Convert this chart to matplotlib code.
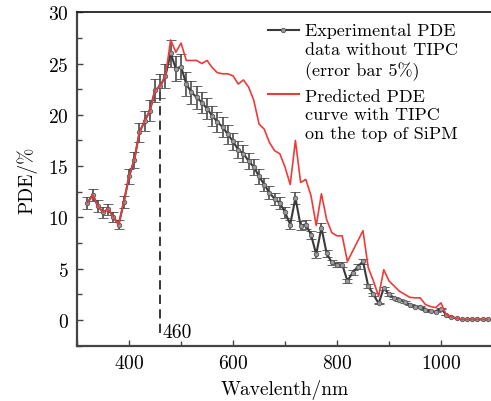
import numpy as np
import matplotlib
matplotlib.use("Agg")
import matplotlib.pyplot as plt
from matplotlib.ticker import MultipleLocator

plt.rcParams['font.family'] = ['cmr10', 'DejaVu Serif']
plt.rcParams['mathtext.fontset'] = 'cm'
plt.rcParams['axes.formatter.use_mathtext'] = True

# wavelength grid (nm)
wavelength = np.arange(320, 1100, 10)

# measured PDE without TIPC (%)
pde_exp = [11.4, 12.2, 11.1, 10.5, 10.8, 10.0, 9.3, 11.5, 14.0, 15.6,
           18.3, 19.4, 20.4, 22.4, 22.8, 23.8, 26.0, 24.5, 24.7, 23.0,
           22.2, 21.7, 21.2, 20.6, 19.9, 19.3, 18.8, 18.1, 17.4, 16.6,
           16.2, 15.5, 14.9, 14.0, 13.2, 12.4, 11.8, 11.4, 10.5, 9.3,
           11.9, 9.2, 9.3, 8.3, 6.4, 9.0, 6.5, 5.6, 5.4, 5.4,
           3.8, 4.6, 5.2, 5.7, 3.3, 2.5, 1.6, 3.1, 2.5, 2.15,
           1.9, 1.75, 1.5, 1.3, 1.3, 1.0, 0.85, 0.8, 1.1, 0.5,
           0.3, 0.15, 0.05, 0.05, 0.05, 0.05, 0.05, 0.05]

# predicted PDE with TIPC on top of SiPM (%)
pde_pred = [11.4, 12.2, 11.1, 10.5, 10.8, 10.0, 9.3, 11.5, 14.0, 15.6,
            18.3, 19.4, 20.4, 22.4, 22.8, 23.8, 27.3, 26.1, 27.0, 25.3,
            25.3, 25.3, 25.0, 25.3, 24.6, 24.1, 24.0, 24.0, 23.8, 23.0,
            23.4, 22.7, 21.4, 19.1, 18.6, 17.3, 16.5, 16.2, 14.9, 13.2,
            17.5, 13.4, 13.7, 12.1, 9.2, 12.3, 9.8, 8.5, 8.2, 8.2,
            5.7, 6.7, 7.7, 8.7, 5.1, 3.8, 2.3, 4.9, 3.8, 3.3,
            2.8, 2.5, 2.2, 2.15, 2.15, 1.5, 1.3, 1.2, 1.66, 0.5,
            0.3, 0.15, 0.05, 0.05, 0.05, 0.05, 0.05, 0.05]

err_frac = 0.05
mark_wl = 460
mark_val = 22.8

fig = plt.figure(figsize=(4.91, 4.02), dpi=100)
ax = fig.add_axes([0.157, 0.138, 0.847, 0.829])

exp = np.array(pde_exp)
ax.errorbar(wavelength, exp, yerr=err_frac * exp, color='#3a3a3a', lw=1.5,
            marker='o', ms=3.2, mfc='#9a9a9a', mec='#555555', mew=0.6,
            ecolor='#4a4a4a', elinewidth=1.2, capsize=3.5, capthick=1.2, zorder=2)
ax.plot(wavelength, pde_pred, color='#f03a3a', lw=1.2, zorder=3)

# 460 nm marker
ax.plot([mark_wl, mark_wl], [-1.3, mark_val], color='black', lw=1.1,
        dashes=(6, 3.5), zorder=1)
ax.text(mark_wl + 5, -1.15, '460', fontsize=14, va='center', ha='left')

ax.set_xlim(300, 1100)
ax.set_ylim(-2.5, 30)
ax.xaxis.set_major_locator(MultipleLocator(200))
ax.xaxis.set_minor_locator(MultipleLocator(100))
ax.yaxis.set_major_locator(MultipleLocator(5))
ax.yaxis.set_minor_locator(MultipleLocator(2.5))
ax.tick_params(which='both', direction='in', labelsize=14, color='#444444',
               width=1.0)
ax.tick_params(which='major', length=4.5, pad=6)
ax.tick_params(which='minor', length=3.5)
ax.tick_params(axis='x', pad=6)

for side in ['left', 'bottom']:
    ax.spines[side].set_linewidth(1.6)
    ax.spines[side].set_color('#444444')
ax.spines['top'].set_linewidth(1.3)
ax.spines['top'].set_color('#222222')
ax.spines['right'].set_visible(False)

ax.set_xlabel('Wavelenth/nm', fontsize=14, labelpad=5)
ax.set_ylabel('PDE/%', fontsize=14, labelpad=8)

# legend, handles aligned with first text line
tr = ax.transAxes
ax.plot([0.459, 0.533], [0.946, 0.946], transform=tr, color='#3a3a3a', lw=1.5,
        clip_on=False, zorder=5)
ax.plot([0.496], [0.946], transform=tr, marker='o', ms=3.2, mfc='#9a9a9a',
        mec='#555555', mew=0.6, clip_on=False, zorder=6)
ax.text(0.548, 0.968, 'Experimental PDE\ndata without TIPC\n(error bar 5%)',
        transform=tr, fontsize=13, va='top', ha='left', linespacing=1.28)
ax.plot([0.459, 0.533], [0.756, 0.756], transform=tr, color='#f03a3a', lw=1.5,
        clip_on=False, zorder=5)
ax.text(0.548, 0.772, 'Predicted PDE\ncurve with TIPC\non the top of SiPM',
        transform=tr, fontsize=13, va='top', ha='left', linespacing=1.28)

fig.savefig('out.png', dpi=100)
